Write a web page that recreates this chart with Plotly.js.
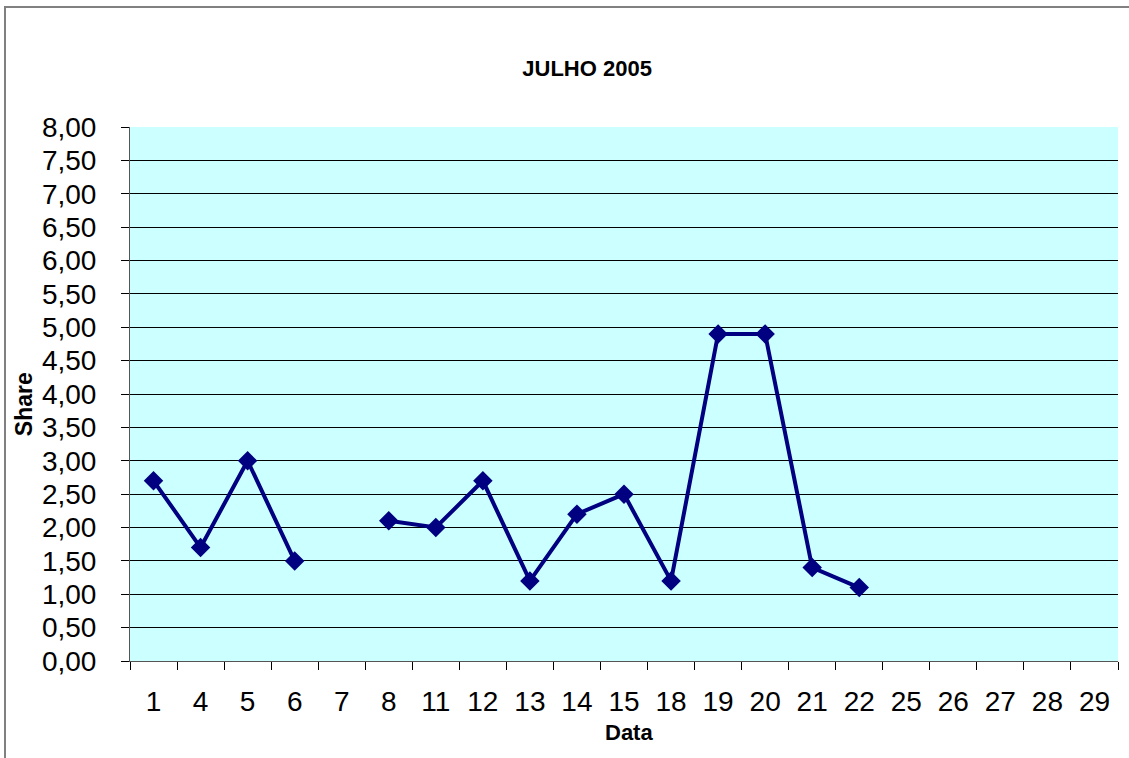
<!DOCTYPE html>
<html>
<head>
<meta charset="utf-8">
<script src="https://cdn.plot.ly/plotly-3.0.1.min.js"></script>
<style>
  html, body { margin: 0; padding: 0; background: #fff; }
  #wrap { position: relative; width: 1129px; height: 758px; overflow: hidden; }
  #chart { width: 1129px; height: 758px; }
  #frame { position: absolute; left: 4px; top: 6px; width: 1200px; height: 800px;
           border-left: 2px solid #808080; border-top: 2px solid #808080; pointer-events: none; }
</style>
</head>
<body>
<div id="wrap">
  <div id="chart"></div>
  <div id="frame"></div>
</div>
<script>
const categories = ["1","4","5","6","7","8","11","12","13","14","15","18","19","20","21","22","25","26","27","28","29"];
const shareValues = [2.7, 1.7, 3.0, 1.5, null, 2.1, 2.0, 2.7, 1.2, 2.2, 2.5, 1.2, 4.9, 4.9, 1.4, 1.1, null, null, null, null, null];
const chartTitle = "JULHO 2005";
const xTitle = "Data";
const yTitle = "Share";

const FONT = "Liberation Sans, Arial, sans-serif";

const trace = {
  x: categories,
  y: shareValues,
  type: "scatter",
  mode: "lines+markers",
  connectgaps: false,
  line: { color: "#000080", width: 4 },
  marker: { symbol: "diamond", size: 15, color: "#000080" },
  hoverinfo: "x+y"
};

const layout = {
  width: 1129,
  height: 758,
  margin: { l: 130, r: 11, t: 127, b: 97 },
  paper_bgcolor: "#ffffff",
  plot_bgcolor: "#CCFFFF",
  separators: ",.",
  showlegend: false,
  font: { family: FONT, color: "#000" },
  title: {
    text: "<b>" + chartTitle + "</b>",
    font: { size: 22, family: FONT, color: "#000" },
    x: 0.52, xref: "container", xanchor: "center",
    y: 1 - 68 / 758, yref: "container", yanchor: "middle"
  },
  xaxis: {
    type: "category",
    categoryorder: "array",
    categoryarray: categories,
    range: [-0.5, categories.length - 0.5],
    tickson: "boundaries",
    ticks: "outside",
    ticklen: 8,
    tickcolor: "#000",
    tickwidth: 1,
    showgrid: false,
    showline: true,
    linecolor: "#555",
    linewidth: 1,
    tickfont: { size: 28, family: FONT, color: "#000" },
    ticklabelstandoff: 15,
    fixedrange: true,
    zeroline: false
  },
  yaxis: {
    range: [0, 8],
    dtick: 0.5,
    tick0: 0,
    tickformat: ".2f",
    ticks: "outside",
    ticklen: 8,
    tickcolor: "#000",
    tickwidth: 1,
    showgrid: true,
    gridcolor: "#000",
    gridwidth: 1,
    showline: true,
    linecolor: "#555",
    linewidth: 1,
    zeroline: false,
    tickfont: { size: 28, family: FONT, color: "#000" },
    ticklabelstandoff: 19,
    fixedrange: true
  },
  annotations: [
    {
      text: "<b>" + xTitle + "</b>",
      xref: "paper", yref: "paper",
      x: 0.505, y: -0.133,
      xanchor: "center", yanchor: "middle",
      showarrow: false,
      font: { size: 22, family: FONT, color: "#000" }
    },
    {
      text: "<b>" + yTitle + "</b>",
      xref: "paper", yref: "paper",
      x: -0.1073, y: 0.481,
      xanchor: "center", yanchor: "middle",
      textangle: -90,
      showarrow: false,
      font: { size: 23, family: FONT, color: "#000" }
    }
  ]
};

Plotly.newPlot("chart", [trace], layout, { displayModeBar: false });
</script>
</body>
</html>
